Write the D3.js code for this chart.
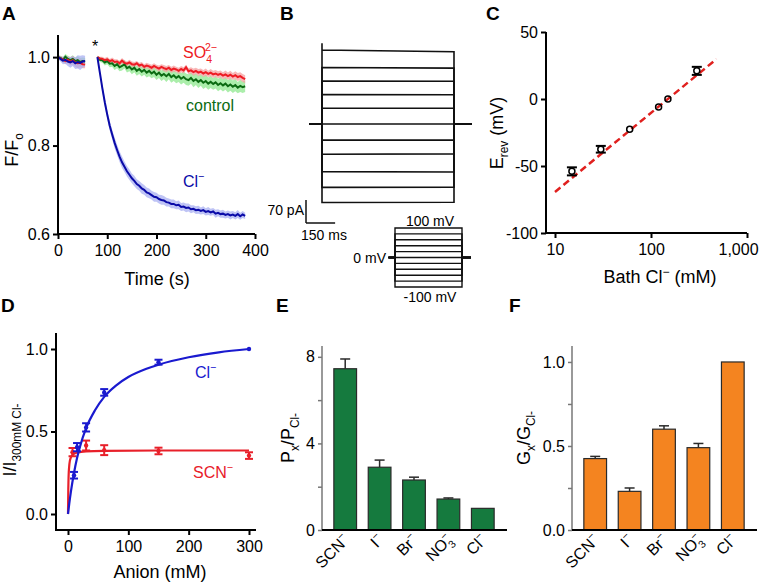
<!DOCTYPE html>
<html><head><meta charset="utf-8">
<script src="https://cdn.jsdelivr.net/npm/d3@7"></script>
<style>
body{margin:0;background:#fff;}
svg{font-family:"Liberation Sans",Arial,Helvetica,sans-serif;}
</style></head><body>
<svg id="fig" width="762" height="583"></svg>
<script>
// ================= DATA =================
// Panel A: fluorescence traces (F/Fo), sampled every 5 s
const aPreStart = 0, aPostStart = 80, aStep = 5;
const aPreCl   = [1.000,0.996,0.992,0.994,0.990,0.988,0.991,0.986,0.989,0.987,0.990,0.991];
const aPreClSem= [0.004,0.006,0.008,0.009,0.010,0.012,0.011,0.013,0.015,0.016,0.014,0.012];
const aPreSO4  = [1.000,0.997,0.995,0.991,0.994,0.990,0.993,0.988,0.986,0.987,0.984,0.983];
const aPreSO4Sem=[0.004,0.005,0.006,0.007,0.008,0.009,0.010,0.010,0.011,0.010,0.009,0.008];
const aPreCtl  = [1.000,0.998,0.994,1.001,0.996,0.993,0.996,0.991,0.993,0.989,0.991,0.990];
const aPreCtlSem=[0.004,0.005,0.006,0.006,0.007,0.007,0.008,0.008,0.009,0.009,0.008,0.008];
const aCl = [1.000,0.965,0.930,0.898,0.870,0.845,0.825,0.806,0.790,0.775,
  0.762,0.752,0.742,0.734,0.726,0.720,0.713,0.709,0.703,0.700,
  0.694,0.692,0.688,0.684,0.683,0.679,0.677,0.676,0.672,0.671,
  0.668,0.668,0.665,0.666,0.661,0.662,0.659,0.660,0.656,0.657,
  0.654,0.655,0.652,0.654,0.650,0.652,0.649,0.651,0.646,0.648,
  0.645,0.646,0.643,0.645,0.642,0.644,0.641,0.645,0.640,0.644,0.641];
const aClSem = [0.003,0.006,0.008,0.009,0.010,0.011,0.011,0.012,0.012,0.012,
  0.013,0.012,0.012,0.012,0.011,0.012,0.011,0.011,0.012,0.011,
  0.011,0.011,0.010,0.011,0.010,0.010,0.011,0.010,0.010,0.009,
  0.010,0.010,0.009,0.010,0.009,0.009,0.010,0.009,0.009,0.008,
  0.009,0.009,0.008,0.009,0.008,0.009,0.008,0.008,0.009,0.008,
  0.008,0.009,0.008,0.008,0.009,0.008,0.008,0.009,0.008,0.008,0.007];
const aSO4 = [1.000,0.997,0.996,0.993,0.995,0.991,0.993,0.989,0.990,0.986,
  0.992,0.987,0.985,0.988,0.984,0.983,0.986,0.981,0.983,0.978,
  0.981,0.979,0.976,0.980,0.977,0.974,0.978,0.975,0.973,0.976,
  0.971,0.974,0.972,0.969,0.973,0.970,0.977,0.968,0.970,0.966,
  0.969,0.965,0.967,0.963,0.966,0.962,0.965,0.961,0.963,0.960,
  0.962,0.958,0.961,0.957,0.960,0.956,0.959,0.955,0.957,0.953,0.950];
const aSO4Sem = [0.003,0.004,0.005,0.005,0.006,0.005,0.006,0.006,0.005,0.006,
  0.006,0.006,0.005,0.006,0.006,0.006,0.005,0.006,0.006,0.006,
  0.006,0.006,0.007,0.006,0.006,0.007,0.006,0.007,0.007,0.006,
  0.007,0.007,0.006,0.007,0.007,0.007,0.006,0.007,0.007,0.008,
  0.007,0.008,0.007,0.008,0.008,0.007,0.008,0.008,0.008,0.008,
  0.008,0.008,0.009,0.008,0.009,0.008,0.009,0.009,0.009,0.009,0.009];
const aCtl = [1.000,0.994,0.993,0.988,0.991,0.985,0.986,0.980,0.984,0.977,
  0.980,0.984,0.975,0.978,0.972,0.976,0.969,0.973,0.967,0.971,
  0.965,0.969,0.963,0.967,0.960,0.965,0.958,0.962,0.957,0.962,
  0.955,0.959,0.953,0.957,0.951,0.955,0.950,0.948,0.953,0.946,
  0.950,0.944,0.948,0.942,0.946,0.940,0.944,0.939,0.943,0.937,
  0.941,0.936,0.940,0.934,0.938,0.933,0.937,0.931,0.935,0.932,0.934];
const aCtlSem = [0.003,0.005,0.006,0.007,0.007,0.008,0.008,0.009,0.009,0.009,
  0.010,0.010,0.010,0.010,0.011,0.010,0.011,0.011,0.011,0.011,
  0.011,0.012,0.011,0.012,0.012,0.012,0.012,0.012,0.013,0.012,
  0.013,0.013,0.012,0.013,0.013,0.013,0.013,0.013,0.013,0.014,
  0.013,0.014,0.013,0.014,0.014,0.014,0.014,0.013,0.014,0.014,
  0.014,0.014,0.014,0.014,0.014,0.014,0.014,0.013,0.014,0.013,0.013];
const aXTicks = [0,100,200,300,400];
const aYTicks = [0.6,0.8,1.0];

// Panel B: whole-cell currents at each voltage step
const bVolt   = [-100,-80,-60,-40,-20,0,20,40,60,80,100];        // mV
const bIStart = [-239,-193,-145,-92,-49,0,48,90,131,172,225];   // pA
const bIEnd   = [-238,-192,-146,-91,-49,0,48,89,130,170,220];   // pA
const bSpike  = 246;      // pA, capacitive transient on top trace
const bStepMs = 680, bPreMs = 65, bPostMs = 90;

// Panel C: reversal potential vs bath Cl-
const cCl   = [15,30,60,120,150,300];
const cErev = [-54,-37.5,-22.5,-6,0,21];
const cErr  = [3,2.5,0.8,0.8,0.5,3];
const cFitX = [10,480];
const cFitY = [-69.4,29.8];
const cXTicks = [10,100,1000];
const cYTicks = [-100,-50,0,50];

// Panel D: dose response
const dClConc = [10,15,30,60,150,300];
const dCl     = [0.235,0.405,0.525,0.737,0.92,1.0];
const dClErr  = [0.02,0.025,0.025,0.02,0.015,0];
const dSCNConc= [7.5,30,60,150,300];
const dSCN    = [0.375,0.415,0.387,0.382,0.354];
const dSCNErr = [0.025,0.03,0.03,0.02,0.02];
const dClFitX = [0,2,5,10,15,20,30,45,60,80,100,130,150,200,250,300];
const dClFitY = [0,0.06,0.14,0.25,0.34,0.41,0.52,0.63,0.71,0.78,0.83,0.88,0.905,0.95,0.98,1.0];
const dSCNFitX= [0,0.5,1,2,3,5,8,15,30,60,150,300];
const dSCNFitY= [0,0.15,0.23,0.29,0.32,0.345,0.36,0.372,0.38,0.383,0.385,0.385];
const dXTicks = [0,100,200,300];
const dYTicks = [0,0.5,1.0];

// Panels E, F: anion selectivity
const anions = ['SCN','I','Br','NO3','Cl'];
const ePerm    = [7.45,2.9,2.31,1.43,1.0];
const ePermErr = [0.45,0.33,0.13,0.05,0];
const fCond    = [0.425,0.23,0.60,0.49,1.0];
const fCondErr = [0.013,0.02,0.02,0.025,0];
const eYTicks = [0,4,8], eYMinor = [2,6];
const fYTicks = [0,0.5,1.0], fYMinor = [0.25,0.75];

// ================= DRAWING =================
const svg = d3.select('#fig');
const TICK = 16, TITLE = 18;

function rich(g, x, y, parts, size, anchor='start', fill='#000', rotate=null) {
  const t = g.append('text').attr('x', x).attr('y', y).attr('font-size', size)
    .attr('text-anchor', anchor).attr('fill', fill);
  if (rotate !== null) t.attr('transform', `rotate(${rotate},${x},${y})`);
  let shift = 0;
  parts.forEach(p => {
    const [txt, type, dx] = p;
    const s = type === 'n' ? size : size * 0.66;
    const target = type === 'sup' ? -size * 0.42 : type === 'sub' ? size * 0.3 : 0;
    const ts = t.append('tspan').text(txt).attr('font-size', s).attr('dy', target - shift);
    if (dx) ts.attr('dx', dx);
    shift = target;
  });
  return t;
}
function line(g, x1, y1, x2, y2, color='#000', w=2) {
  g.append('line').attr('x1',x1).attr('y1',y1).attr('x2',x2).attr('y2',y2)
    .attr('stroke',color).attr('stroke-width',w);
}
function styleAxis(a, color='#000', w=2, size=TICK) {
  a.select('.domain').remove();
  a.selectAll('.tick line').attr('stroke', color).attr('stroke-width', w);
  a.selectAll('.tick text').attr('font-size', size).attr('fill', '#000')
    .attr('font-family', '"Liberation Sans",Arial,sans-serif');
}
function panelLabel(x, y, t) {
  svg.append('text').attr('x',x).attr('y',y).attr('font-size',19).attr('font-weight','bold').text(t);
}

// ---------- Panel A ----------
(function(){
  const g = svg.append('g');
  const x = d3.scaleLinear().domain([0,400]).range([58,255]);
  const y = d3.scaleLinear().domain([0.6,1.05]).range([234,35]);
  const mk = (start, mean, sem) => mean.map((v,i)=>({t:start+i*aStep, v, s:sem[i]}));
  const series = [
    {pre: mk(aPreStart,aPreCtl,aPreCtlSem), post: mk(aPostStart,aCtl,aCtlSem), line:'#0b6b12', band:'#8fe88f'},
    {pre: mk(aPreStart,aPreSO4,aPreSO4Sem), post: mk(aPostStart,aSO4,aSO4Sem), line:'#ee1c24', band:'#f6a0a0'},
    {pre: mk(aPreStart,aPreCl,aPreClSem),  post: mk(aPostStart,aCl,aClSem),  line:'#0a0aa8', band:'#aab0f2'}
  ];
  const area = d3.area().x(d=>x(d.t)).y0(d=>y(d.v-d.s)).y1(d=>y(d.v+d.s));
  const ln = d3.line().x(d=>x(d.t)).y(d=>y(d.v));
  series.forEach(s => [s.pre, s.post].forEach(seg =>
    g.append('path').attr('d', area(seg)).attr('fill', s.band).attr('fill-opacity',0.75)));
  series.forEach(s => [s.pre, s.post].forEach(seg =>
    g.append('path').attr('d', ln(seg)).attr('fill','none').attr('stroke', s.line).attr('stroke-width',2)));
  const ax = g.append('g').attr('transform','translate(0,234)')
    .call(d3.axisBottom(x).tickValues(aXTicks).tickSize(5).tickPadding(6).tickFormat(d3.format('d')));
  styleAxis(ax);
  const ay = g.append('g').attr('transform','translate(58,0)')
    .call(d3.axisLeft(y).tickValues(aYTicks).tickSize(5).tickPadding(3).tickFormat(d3.format('.1f')));
  styleAxis(ay);
  line(g, 58, 35, 58, 235); line(g, 57, 234, 255, 234);
  g.append('text').attr('x',157).attr('y',285).attr('font-size',TITLE).attr('text-anchor','middle').text('Time (s)');
  rich(g, 18, 150, [['F/F','n'],['o','sub']], TITLE, 'middle', '#000', -90);
  g.append('text').attr('x',95).attr('y',52).attr('font-size',16).attr('text-anchor','middle').text('*');
  rich(g, 183, 58, [['SO','n'],['4','sub'],['2\u2212','sup',-7]], 16, 'start', '#ee1c24');
  g.append('text').attr('x',186).attr('y',111).attr('font-size',16).attr('fill','#0b6b12').text('control');
  rich(g, 183, 187, [['Cl','n'],['\u2212','sup']], 16, 'start', '#0a0aa8');
  panelLabel(2, 20, 'A');
})();

// ---------- Panel B ----------
(function(){
  const g = svg.append('g');
  const t = d3.scaleLinear().domain([0, bStepMs]).range([322, 454]);
  const yI = d3.scaleLinear().domain([0, 70]).range([124, 101]);
  bVolt.forEach((v,i) => {
    const pts = [[-bPreMs,0],[0,0]];
    if (i === bVolt.length-1) pts.push([0,bSpike]);
    pts.push([0,bIStart[i]],[bStepMs,bIEnd[i]],[bStepMs,0],[bStepMs+bPostMs,0]);
    g.append('path').attr('d', d3.line().x(d=>t(d[0])).y(d=>yI(d[1]))(pts))
      .attr('fill','none').attr('stroke','#111').attr('stroke-width',1.6);
  });
  // scale bars (70 pA, 150 ms)
  const sx0 = 306;
  const sy0 = 223;
  line(g, sx0, sy0, sx0, sy0 - (yI(0)-yI(70)), '#111', 1.5);
  line(g, sx0, sy0, sx0 + (t(150)-t(0)), sy0, '#111', 1.5);
  g.append('text').attr('x',304).attr('y',215).attr('font-size',14).attr('text-anchor','end').text('70 pA');
  g.append('text').attr('x',324).attr('y',240).attr('font-size',14).attr('text-anchor','middle').text('150 ms');
  // voltage protocol
  const pt = d3.scaleLinear().domain([0, bStepMs]).range([395, 462]);
  const pv = d3.scaleLinear().domain([-100,100]).range([287, 228]);
  bVolt.forEach(v => {
    const pts = [[-bPreMs,0],[0,0],[0,v],[bStepMs,v],[bStepMs,0],[bStepMs+bPostMs,0]];
    g.append('path').attr('d', d3.line().x(d=>pt(d[0])).y(d=>pv(d[1]))(pts))
      .attr('fill','none').attr('stroke','#111').attr('stroke-width',1.4);
  });
  g.append('text').attr('x',430).attr('y',226).attr('font-size',14).attr('text-anchor','middle').text('100 mV');
  g.append('text').attr('x',430).attr('y',302).attr('font-size',14).attr('text-anchor','middle').text('-100 mV');
  g.append('text').attr('x',386).attr('y',263).attr('font-size',14).attr('text-anchor','end').text('0 mV');
  panelLabel(280, 20, 'B');
})();

// ---------- Panel C ----------
(function(){
  const g = svg.append('g');
  const x = d3.scaleLog().domain([10,1000]).range([555,747]);
  const y = d3.scaleLinear().domain([-100,50]).range([233,32]);
  const ax = g.append('g').attr('transform','translate(0,233)')
    .call(d3.axisBottom(x).tickValues(cXTicks).tickSize(5).tickPadding(6).tickFormat(d3.format(',')));
  styleAxis(ax);
  ax.selectAll('.tick text').filter(d => d === 1000).attr('dx', -9);
  const ay = g.append('g').attr('transform','translate(546,0)')
    .call(d3.axisLeft(y).tickValues(cYTicks).tickSize(5).tickPadding(3));
  styleAxis(ay);
  ay.selectAll('.tick text').text(d => d < 0 ? '-' + Math.abs(d) : d);
  line(g, 546, 32, 546, 234); line(g, 545, 233, 747, 233);
  g.append('path').attr('d', d3.line().x(d=>x(d[0])).y(d=>y(d[1]))(cFitX.map((v,i)=>[v,cFitY[i]])))
    .attr('stroke','#e0201e').attr('stroke-width',2.5).attr('stroke-dasharray','7,4').attr('fill','none');
  cCl.forEach((c,i) => {
    const cx = x(c);
    if (cErr[i] > 1) {
      line(g, cx, y(cErev[i]-cErr[i]), cx, y(cErev[i]+cErr[i]), '#000', 2);
      line(g, cx-5, y(cErev[i]-cErr[i]), cx+5, y(cErev[i]-cErr[i]), '#000', 2);
      line(g, cx-5, y(cErev[i]+cErr[i]), cx+5, y(cErev[i]+cErr[i]), '#000', 2);
    }
    g.append('circle').attr('cx',cx).attr('cy',y(cErev[i])).attr('r',3)
      .attr('fill', cErr[i] > 1 ? '#fff' : 'none').attr('stroke','#000').attr('stroke-width',1.5);
  });
  g.append('text').attr('x',660).attr('y',283).attr('font-size',TITLE).attr('text-anchor','middle')
    .call(t => { t.append('tspan').text('Bath Cl');
                 t.append('tspan').text('\u2212').attr('font-size',12).attr('dy',-7);
                 t.append('tspan').text(' (mM)').attr('dy',7); });
  rich(g, 503, 133, [['E','n'],['rev','sub'],[' (mV)','n']], TITLE, 'middle', '#000', -90);
  panelLabel(486, 20, 'C');
})();

// ---------- Panel D ----------
(function(){
  const g = svg.append('g');
  const x = d3.scaleLinear().domain([0,300]).range([68,249]);
  const y = d3.scaleLinear().domain([0,1]).range([514,349]);
  const ax = g.append('g').attr('transform','translate(0,530)')
    .call(d3.axisBottom(x).tickValues(dXTicks).tickSize(5).tickPadding(6));
  styleAxis(ax);
  const ay = g.append('g').attr('transform','translate(56,0)')
    .call(d3.axisLeft(y).tickValues(dYTicks).tickSize(5).tickPadding(3).tickFormat(d3.format('.1f')));
  styleAxis(ay);
  line(g, 56, 333, 56, 531); line(g, 55, 530, 256, 530);
  const curve = d3.line().x(d=>x(d[0])).y(d=>y(d[1])).curve(d3.curveMonotoneX);
  const draw = (cx, cy, ce, fx, fy, col) => {
    g.append('path').attr('d', curve(fx.map((v,i)=>[v,fy[i]]))).attr('fill','none')
      .attr('stroke',col).attr('stroke-width',2.2);
    cx.forEach((c,i) => {
      const px = x(c);
      if (ce[i] > 0) {
        line(g, px, y(cy[i]-ce[i]), px, y(cy[i]+ce[i]), col, 2);
        line(g, px-4, y(cy[i]-ce[i]), px+4, y(cy[i]-ce[i]), col, 2);
        line(g, px-4, y(cy[i]+ce[i]), px+4, y(cy[i]+ce[i]), col, 2);
      }
      g.append('circle').attr('cx',px).attr('cy',y(cy[i])).attr('r',2.2).attr('fill',col);
    });
  };
  draw(dSCNConc, dSCN, dSCNErr, dSCNFitX, dSCNFitY, '#e8202a');
  draw(dClConc, dCl, dClErr, dClFitX, dClFitY, '#1a1acf');
  rich(g, 195, 378, [['Cl','n'],['\u2212','sup']], 16, 'start', '#1a1acf');
  rich(g, 193, 478, [['SCN','n'],['\u2212','sup']], 16, 'start', '#e8202a');
  g.append('text').attr('x',160).attr('y',578).attr('font-size',TITLE).attr('text-anchor','middle').text('Anion (mM)');
  rich(g, 16, 440, [['I/I','n'],['300mM Cl-','sub']], TITLE, 'middle', '#000', -90);
  panelLabel(1, 312, 'D');
})();

// ---------- Panels E, F ----------
function barPanel(x0, x1, range, yDomain, vals, errs, ticks, minor, fmt, color, ylab, label, lx) {
  const g = svg.append('g');
  const x = d3.scaleBand().domain(anions).range(range).paddingInner(0.34).paddingOuter(0.17);
  const y = d3.scaleLinear().domain(yDomain).range([530, 346]);
  const ay = g.append('g').attr('transform',`translate(${x0},0)`)
    .call(d3.axisLeft(y).tickValues(ticks.concat(minor)).tickSize(4).tickPadding(3)
      .tickFormat(d => ticks.includes(d) ? fmt(d) : ''));
  styleAxis(ay, '#777', 1.5);
  line(g, x0, 346, x0, 530, '#777', 1.5);
  anions.forEach((a,i) => {
    const bx = x(a), bw = x.bandwidth(), cx = bx + bw/2;
    g.append('rect').attr('x',bx).attr('y',y(vals[i])).attr('width',bw).attr('height',y(0)-y(vals[i]))
      .attr('fill',color).attr('stroke','#2a2a2a').attr('stroke-width',1.2);
    if (errs[i] > 0) {
      line(g, cx, y(vals[i]), cx, y(vals[i]+errs[i]), '#2a2a2a', 1.5);
      line(g, cx-5, y(vals[i]+errs[i]), cx+5, y(vals[i]+errs[i]), '#2a2a2a', 1.5);
    }
    const parts = a === 'NO3' ? [['NO','n'],['3','sub'],['\u2212','sup',-6]] : [[a,'n'],['\u2212','sup']];
    const tx = cx + 5, ty = 541;
    rich(g, tx, ty, parts, 16, 'end', '#000', -45);
  });
  line(g, x0, 530, x1, 530, '#000', 2);
  rich(g, lx, 438, ylab, TITLE, 'middle', '#000', -90);
  panelLabel(label[1], 312, label[0]);
}
barPanel(322, 507, [328,500], [0,8.5], ePerm, ePermErr, eYTicks, eYMinor, d3.format('d'),
  '#157a3e', [['P','n'],['x','sub'],['/P','n'],['Cl-','sub']], ['E',276], 294);
barPanel(572, 757, [578,750], [0,1.095], fCond, fCondErr, fYTicks, fYMinor, d3.format('.1f'),
  '#f48420', [['G','n'],['x','sub'],['/G','n'],['Cl-','sub']], ['F',509], 530);
</script>
</body></html>
